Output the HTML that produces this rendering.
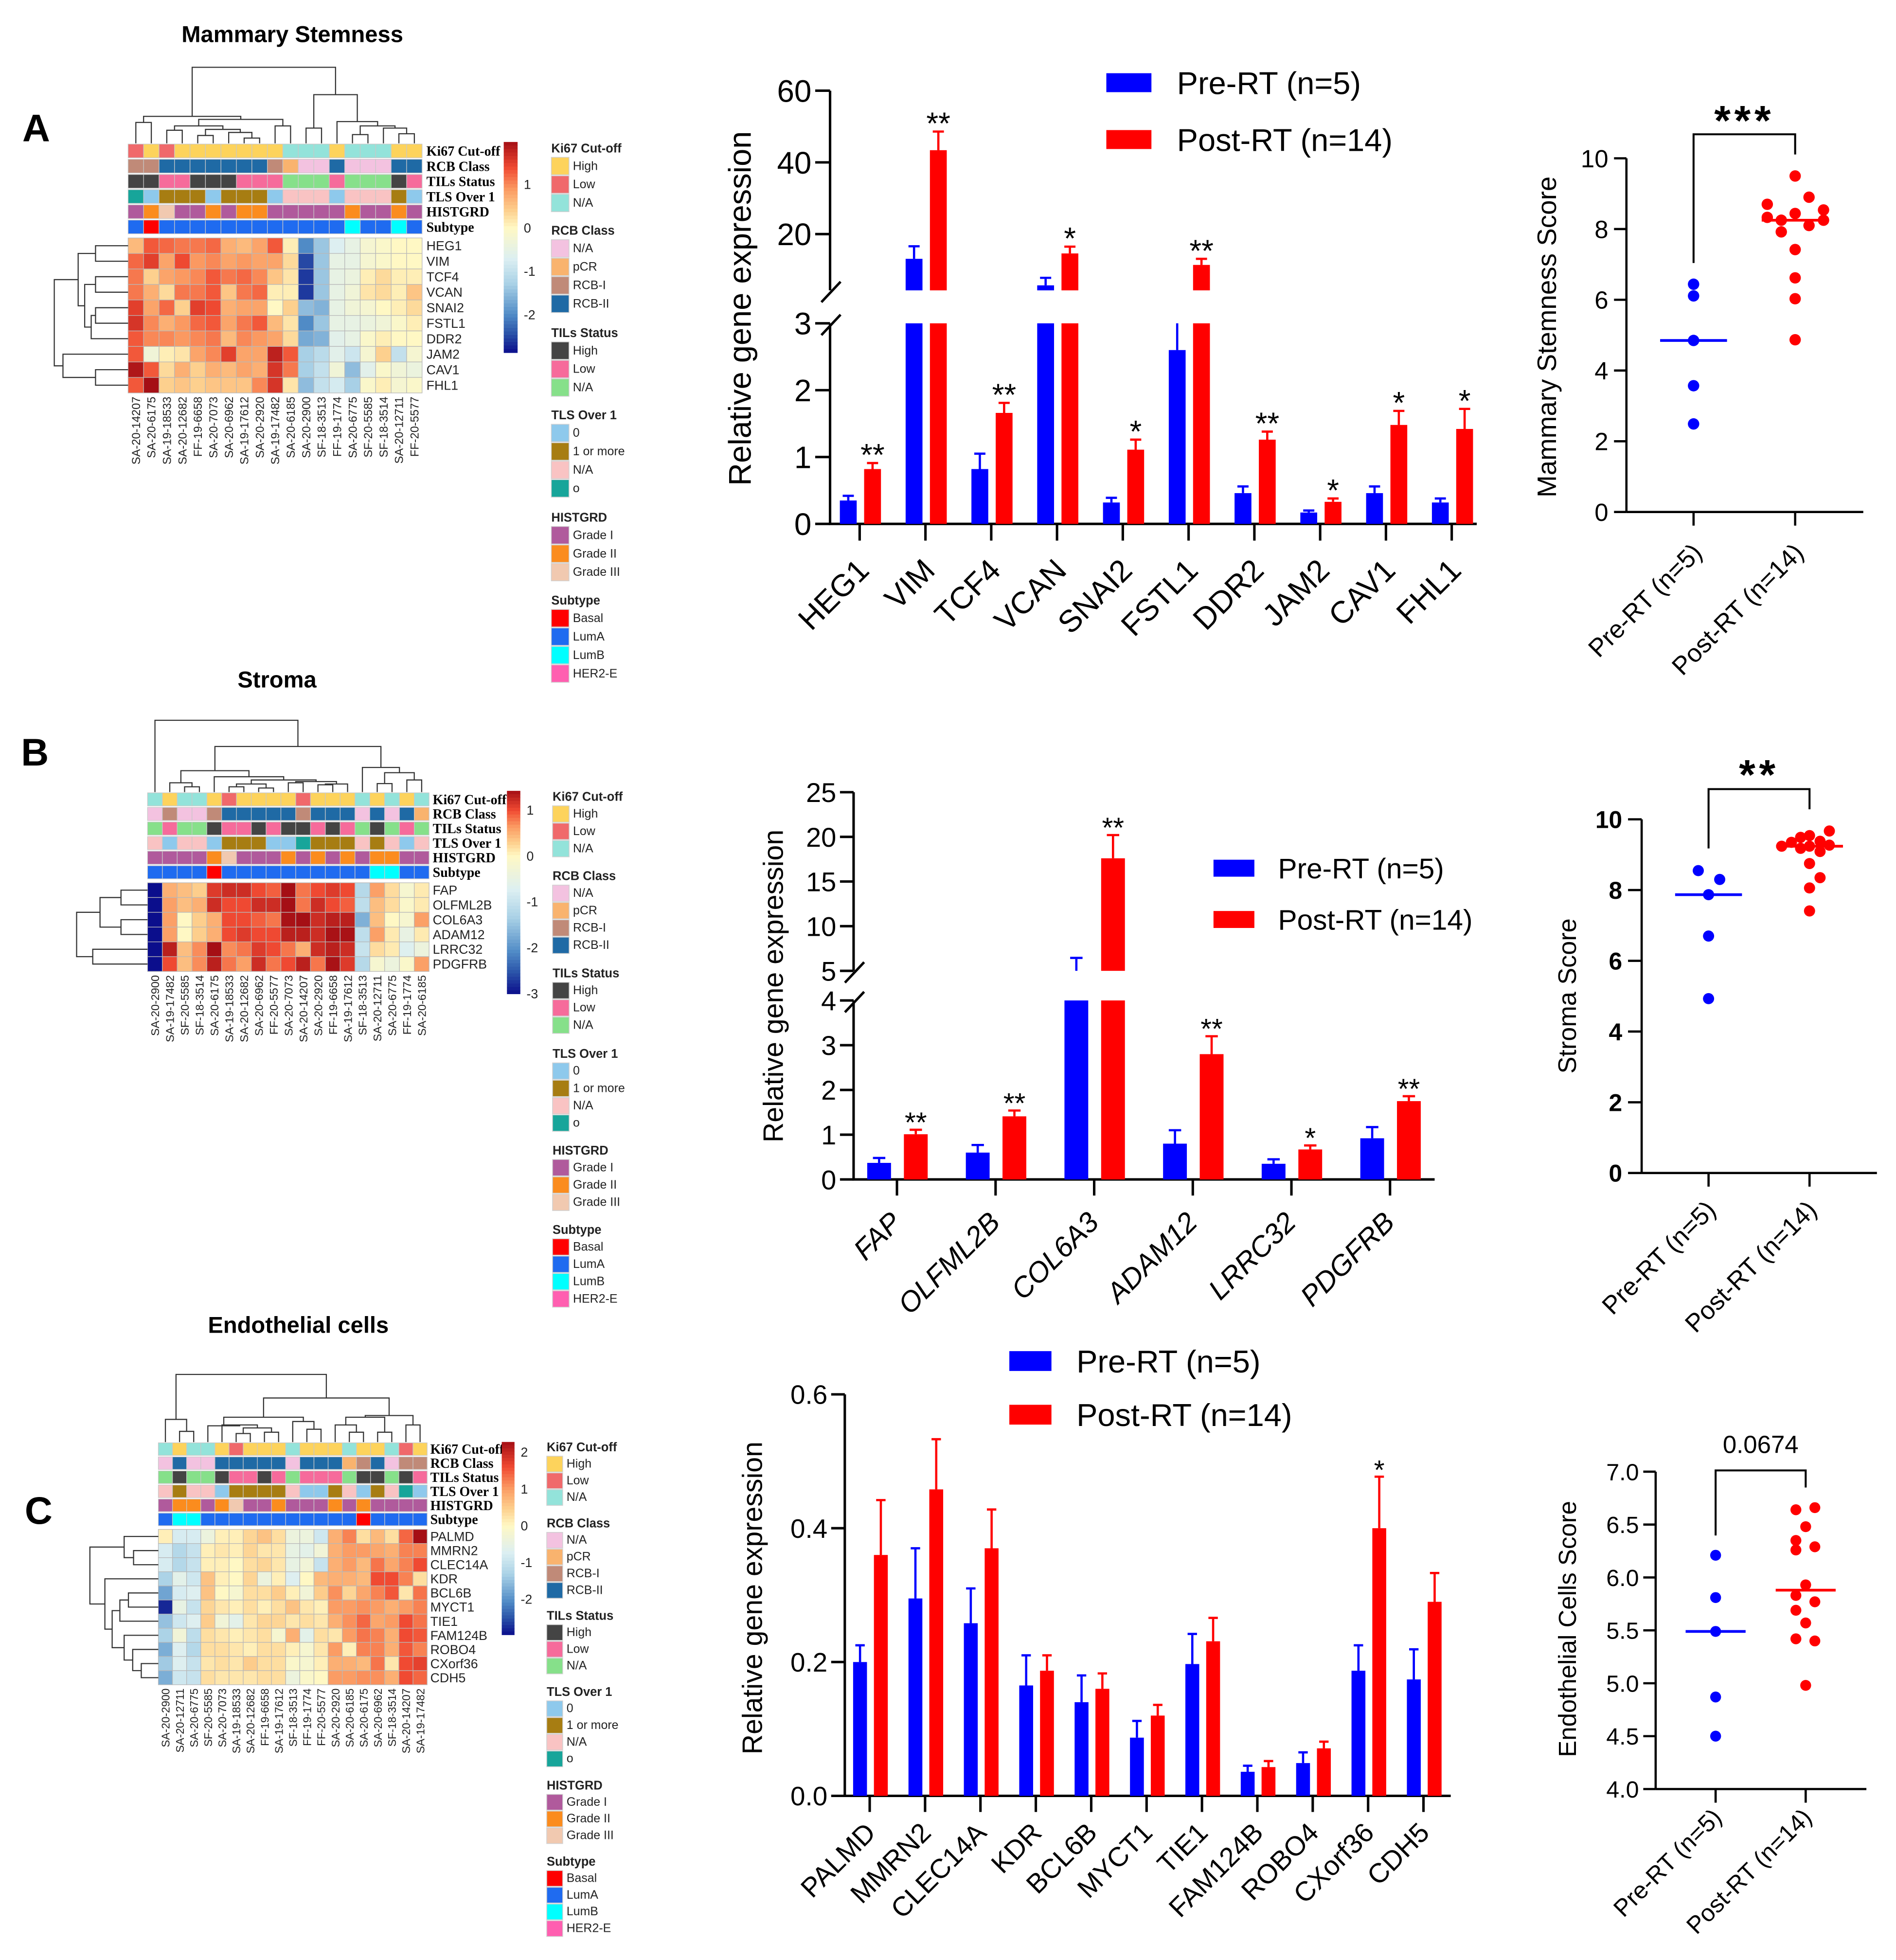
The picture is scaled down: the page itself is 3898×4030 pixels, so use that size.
<!DOCTYPE html>
<html><head><meta charset="utf-8"><title>Figure</title>
<style>
html,body{margin:0;padding:0;background:#fff;}
svg{display:block;font-family:"Liberation Sans",Arial,sans-serif;}
</style></head>
<body>
<svg id="fig" xmlns="http://www.w3.org/2000/svg" width="3898" height="4030" viewBox="0 0 1530.4 1582.2" preserveAspectRatio="none">
<rect x="0" y="0" width="1530.4" height="1582.2" fill="#fff"/>
</svg>
<script>
// ================= DATA =================
// Heatmap A (Mammary Stemness)
const heatA_genes=["HEG1","VIM","TCF4","VCAN","SNAI2","FSTL1","DDR2","JAM2","CAV1","FHL1"];
const heatA_samples=["SA-20-14207","SA-20-6175","SA-19-18533","SA-20-12682","FF-19-6658","SA-20-7073","SA-20-6962","SA-19-17612","SA-20-2920","SA-19-17482","SA-20-6185","SA-20-2900","SF-18-3513","FF-19-1774","SA-20-6775","SF-20-5585","SF-18-3514","SA-20-12711","FF-20-5577"];
const heatA_values=[
[0.6,1.3,1.2,1.1,1.1,1.2,0.7,0.6,0.8,1.3,0.1,-2,-1.4,-0.7,-0.5,-0.2,-0.1,0,0],
[1.2,1.5,0.8,1.4,0.9,1.0,0.8,0.9,0.8,0.8,0.3,-2.5,-1.4,-0.5,-0.5,-0.2,-0.1,0,0],
[1.1,0.4,0.8,0.9,1.0,1.3,1.1,1.2,1.0,0.5,0.2,-2.6,-1.4,-0.5,-0.4,0.1,0.3,0.1,0.1],
[1.1,0.7,0.3,1.1,1.1,1.3,0.5,1.1,1.2,0.1,0.1,-2.6,-1.4,-0.5,-0.3,0.2,0.3,0.1,0.5],
[1.5,0.8,1.2,0.4,1.5,1.4,0.7,0.8,0.8,0,0.4,-1.5,-1.6,-0.5,-0.3,-0.2,0,0.1,0.3],
[1.6,1.0,0.7,0.9,1.2,1.3,0.8,1.1,1.3,0.6,0.2,-2,-1.4,-0.5,-0.5,-0.4,-0.3,-0.1,0.1],
[1.3,1.0,1.0,0.9,1.0,1.1,0.6,1.0,0.9,0.8,0.3,-1.7,-1.6,-0.6,-0.5,-0.1,0.1,0,0],
[1.3,-0.3,0.1,0.2,0.8,1.0,1.5,0.8,0.8,1.8,1.3,-1.3,-1.1,-0.6,-0.9,-0.2,0.4,-1.0,-0.2],
[1.9,1.3,0.3,0.7,0.4,0.7,0.6,0.8,0.7,1.6,1.1,-1.3,-1.0,-0.3,-1.5,-0.6,-0.1,-0.3,-0.4],
[1.3,2.0,0.4,0.5,0.4,0.5,0.5,0.5,1.0,1.6,0.2,-1.5,-1.0,-0.8,-1.3,-0.1,0.1,-0.2,-0.1]];
const annA_ki67=["L","H","L","H","H","H","H","H","H","H","N","N","N","H","N","N","N","H","H"];
const annA_rcb=["I","I","II","II","II","II","II","II","II","I","pCR","N","N","II","N","N","N","II","II"];
const annA_tils=["H","H","L","L","H","H","H","L","L","L","N","N","N","L","N","N","N","H","L"];
const annA_tls=["o","0","1","1","1","0","1","1","1","0","N","N","N","0","N","N","N","1","0"];
const annA_hist=["1","2","3","1","1","2","1","2","2","1","1","1","1","1","2","1","1","2","1"];
const annA_sub=["A","B","A","A","A","A","A","A","A","A","A","A","A","A","LB","A","A","LB","A"];

// Heatmap B (Stroma)
const heatB_genes=["FAP","OLFML2B","COL6A3","ADAM12","LRRC32","PDGFRB"];
const heatB_samples=["SA-20-2900","SA-19-17482","SF-20-5585","SF-18-3514","SA-20-6175","SA-19-18533","SA-20-12682","SA-20-6962","FF-20-5577","SA-20-7073","SA-20-14207","SA-20-2920","FF-19-6658","SA-19-17612","SF-18-3513","SA-20-12711","SA-20-6775","FF-19-1774","SA-20-6185"];
const heatB_values=[
[-3,0.5,0.4,0.3,1.1,1.2,1.2,1.0,0.9,1.6,0.8,1.0,1.1,1.0,-1.2,0.6,0.2,-0.2,0.1],
[-3,0.6,0.4,0.5,1.2,1.0,1.0,1.2,1.2,1.5,0.8,1.2,1.0,0.9,-1.1,0.4,0.2,-0.1,0.1],
[-3,0.6,0.0,0.3,0.5,1.0,1.0,0.9,0.8,1.4,1.5,1.2,1.3,1.3,-1.7,0.4,0.0,-0.2,0.6],
[-3,0.6,0.0,0.3,0.5,1.0,1.1,1.0,1.0,1.3,1.3,1.2,1.4,1.4,-1.1,0.6,0.1,-0.5,0.1],
[-3,1.3,0.4,0.7,1.9,0.7,0.8,1.1,1.0,0.8,0.5,1.2,1.3,1.2,-1.0,0.2,0.1,-0.7,-0.4],
[-3,1.0,0.4,0.7,1.3,0.8,0.6,1.2,0.8,1.0,1.3,0.8,1.4,1.1,-1.2,-0.2,-0.4,-0.1,0.6]];
const annB_ki67=["N","H","N","N","H","L","H","H","H","H","L","H","H","H","N","H","N","H","N"];
const annB_rcb=["N","I","N","N","I","II","II","II","II","II","I","II","II","II","N","II","N","II","pCR"];
const annB_tils=["N","L","N","N","H","L","L","H","L","H","H","L","H","L","N","H","N","L","N"];
const annB_tls=["N","0","N","N","0","1","1","1","0","0","o","1","1","1","N","1","N","0","N"];
const annB_hist=["1","1","1","1","2","3","1","1","1","2","1","2","1","2","1","2","2","1","1"];
const annB_sub=["A","A","A","A","B","A","A","A","A","A","A","A","A","A","A","LB","LB","A","A"];

// Heatmap C (Endothelial cells)
const heatC_genes=["PALMD","MMRN2","CLEC14A","KDR","BCL6B","MYCT1","TIE1","FAM124B","ROBO4","CXorf36","CDH5"];
const heatC_samples=["SA-20-2900","SA-20-12711","SA-20-6775","SF-20-5585","SA-20-7073","SA-19-18533","SA-20-12682","FF-19-6658","SA-19-17612","SF-18-3513","FF-19-1774","FF-20-5577","SA-20-2920","SA-20-6185","SA-20-6175","SA-20-6962","SF-18-3514","SA-20-14207","SA-19-17482"];
const heatC_values=[
[0.1,-0.8,-0.8,-0.4,0.1,0.1,0.4,0.6,0.3,-0.4,-0.4,-0.9,0.8,1.2,0.3,0.7,0.3,1.4,2.3],
[-0.8,-1.2,-1.0,0.1,0.2,0.1,0.4,0.2,0.2,-0.5,-0.6,-0.3,0.8,1.0,1.0,0.9,0.8,1.2,1.2],
[-0.8,-1.2,-1.0,0.1,0.1,0.0,0.3,0.4,0.2,-0.5,-0.3,-1.0,0.8,1.0,0.7,1.3,0.9,1.2,1.6],
[-1.3,-0.6,-0.9,0.6,0.1,0.0,0.4,-0.4,0.1,-0.7,0.0,0.7,0.8,0.8,0.7,1.6,1.6,1.2,0.3],
[-1.8,-0.8,-0.7,0.6,0.0,-0.2,0.3,0.3,0.5,0.1,-0.3,0.5,1.1,0.4,0.9,1.2,1.5,0.2,1.3],
[-2.8,-0.5,-1.0,0.4,0.2,0.1,0.3,0.1,0.3,0.6,0.2,0.1,1.0,1.0,1.1,1.0,0.8,1.0,1.2],
[-1.5,-0.9,-0.7,0.5,-0.3,-0.6,0.2,0.4,0.4,0.2,0.3,0.2,0.8,1.1,1.4,0.9,1.0,1.6,1.3],
[-1.3,-0.3,-1.1,0.3,0.2,0.1,0.2,0.3,-0.2,0.8,-0.6,0.3,0.2,1.0,1.3,1.2,0.8,1.6,1.5],
[-1.7,-0.7,-1.2,0.3,0.3,0.2,0.1,0.3,0.3,0.1,-0.2,0.2,1.0,0.1,1.2,1.2,0.8,1.5,1.2],
[-1.4,-0.7,-1.0,0.2,0.3,0.2,0.5,0.3,0.3,-0.1,-0.2,0.1,0.8,0.8,0.7,1.3,0.2,1.6,1.7],
[-1.7,-0.9,-1.0,0.3,0.2,0.2,0.2,0.3,0.3,-0.4,-0.1,0.0,1.0,1.0,1.1,1.1,0.8,1.6,1.4]];
const annC_ki67=["N","H","N","N","H","L","H","H","H","N","H","H","H","N","H","H","N","L","H"];
const annC_rcb=["N","II","N","N","II","II","II","II","II","N","II","II","II","pCR","I","II","N","I","I"];
const annC_tils=["N","H","N","N","H","L","L","H","L","N","L","L","L","N","H","H","N","H","L"];
const annC_tls=["N","1","N","N","0","1","1","1","1","N","0","0","1","N","0","1","N","o","0"];
const annC_hist=["1","2","2","1","2","3","1","1","2","1","1","1","2","1","2","1","1","1","1"];
const annC_sub=["A","LB","LB","A","A","A","A","A","A","A","A","A","A","A","B","A","A","A","A"];

// Dendrogram merges [childA, childB, height(zoom units)]
const dendA_cols=[[0,1,282],[2,3,300],[4,5,312],[7,8,318],[6,22,305],[21,23,298],[20,24,290],[9,10,290],[25,26,275],[19,27,268],[11,12,295],[14,15,310],[17,18,308],[16,31,295],[30,32,290],[13,33,280],[29,34,218],[28,35,155]];
const dendA_rows=[[0,1,220],[2,3,220],[4,5,220],[12,6,210],[11,13,195],[10,14,180],[8,9,220],[7,16,145],[15,17,125]];
const dendB_cols=[[2,3,335],[1,19,325],[5,6,335],[7,8,338],[21,22,328],[9,10,325],[11,12,330],[25,13,328],[24,26,322],[23,27,318],[4,28,310],[20,29,295],[15,16,327],[17,18,318],[31,32,300],[14,33,287],[30,34,235],[0,35,170]];
const dendB_rows=[[0,1,300],[2,3,300],[6,7,248],[4,5,230],[8,9,190]];
const dendC_cols=[[1,2,333],[0,19,305],[5,6,338],[7,8,335],[21,22,325],[4,23,318],[3,24,320],[10,11,328],[9,26,310],[25,27,300],[13,14,335],[12,29,318],[15,16,335],[30,31,300],[17,18,318],[32,33,296],[28,34,255],[20,35,200]];
const dendC_rows=[[1,2,312],[0,11,290],[4,5,300],[13,6,280],[9,10,330],[8,15,310],[7,16,290],[14,17,262],[3,18,245],[12,19,210]];

// Bar chart A
const barA_genes=["HEG1","VIM","TCF4","VCAN","SNAI2","FSTL1","DDR2","JAM2","CAV1","FHL1"];
const barA_pre=[0.35,13.1,0.82,5.7,0.32,2.6,0.46,0.17,0.46,0.32];
const barA_preErr=[0.07,3.5,0.23,2.1,0.07,0.6,0.1,0.03,0.1,0.06];
const barA_post=[0.82,43.4,1.66,14.6,1.11,11.4,1.26,0.33,1.48,1.42];
const barA_postErr=[0.09,5.2,0.15,1.9,0.15,1.7,0.12,0.05,0.21,0.3];
const barA_stars=["**","**","**","*","*","**","**","*","*","*"];
const barA_lowTicks=[0,1,2,3];
const barA_upTicks=[20,40,60];
// Bar chart B
const barB_genes=["FAP","OLFML2B","COL6A3","ADAM12","LRRC32","PDGFRB"];
const barB_pre=[0.37,0.6,5.0,0.8,0.35,0.92];
const barB_preErr=[0.11,0.17,1.45,0.3,0.1,0.25];
const barB_post=[1.01,1.41,17.6,2.8,0.67,1.75];
const barB_postErr=[0.1,0.13,2.6,0.4,0.09,0.11];
const barB_stars=["**","**","**","**","*","**"];
const barB_lowTicks=[0,1,2,3,4];
const barB_upTicks=[5,10,15,20,25];
// Bar chart C
const barC_genes=["PALMD","MMRN2","CLEC14A","KDR","BCL6B","MYCT1","TIE1","FAM124B","ROBO4","CXorf36","CDH5"];
const barC_pre=[0.20,0.295,0.258,0.165,0.14,0.087,0.197,0.036,0.049,0.187,0.174];
const barC_preErr=[0.025,0.075,0.052,0.045,0.04,0.025,0.045,0.009,0.016,0.038,0.045];
const barC_post=[0.36,0.458,0.37,0.187,0.16,0.12,0.231,0.043,0.071,0.40,0.29];
const barC_postErr=[0.082,0.075,0.058,0.023,0.023,0.016,0.035,0.009,0.01,0.077,0.043];
const barC_stars=["","","","","","","","","","*",""];
const barC_lowTicks=[0,0.2,0.4,0.6];

// Scatter plots
const scatA_pre=[6.44,6.11,4.85,3.57,2.49];
const scatA_post=[9.5,8.9,8.7,8.54,8.44,8.33,8.25,8.25,8.1,7.92,7.42,6.62,6.03,4.87];
const scatA_ticks=[0,2,4,6,8,10];
const scatB_pre=[8.55,8.3,7.87,6.7,4.93];
const scatB_post=[9.67,9.54,9.49,9.38,9.35,9.27,9.24,9.24,9.18,9.09,8.75,8.35,8.06,7.41];
const scatB_ticks=[0,2,4,6,8,10];
const scatC_pre=[6.21,5.81,5.49,4.87,4.5];
const scatC_post=[6.66,6.64,6.48,6.35,6.29,6.26,5.93,5.83,5.77,5.69,5.57,5.42,5.4,4.98];
const scatC_ticks=[4.0,4.5,5.0,5.5,6.0,6.5,7.0];

// ================= DRAWING =================
const NS='http://www.w3.org/2000/svg';
const svg=document.getElementById('fig');
function mk(tag,attrs,parent){const e=document.createElementNS(NS,tag);for(const k in attrs)e.setAttribute(k,attrs[k]);(parent||svg).appendChild(e);return e;}
function txt(str,attrs,parent){const e=mk('text',attrs,parent);e.textContent=str;return e;}
function grp(name,parent){const g=mk('g',{},parent);


return g;}

function lerpCol(c1,c2,t){const a=parseInt(c1.slice(1),16),b=parseInt(c2.slice(1),16);
const r=Math.round(((a>>16)&255)*(1-t)+((b>>16)&255)*t),g=Math.round(((a>>8)&255)*(1-t)+((b>>8)&255)*t),bl=Math.round((a&255)*(1-t)+(b&255)*t);
return 'rgb('+r+','+g+','+bl+')';}
function ramp(stops,t){t=Math.max(0,Math.min(1,t));for(let i=1;i<stops.length;i++){if(t<=stops[i][0]){const s=stops[i-1],e=stops[i];return lerpCol(s[1],e[1],(t-s[0])/(e[0]-s[0]));}}return stops[stops.length-1][1];}
const POS=[[0,'#FFF8C4'],[0.2,'#FDD08E'],[0.45,'#FB9A62'],[0.7,'#F04A32'],[1,'#A50F15']];
const NEG=[[0,'#FFF8C4'],[0.25,'#DCEFF2'],[0.45,'#A9D1E6'],[0.7,'#4F8AC6'],[0.85,'#2A52A8'],[1,'#0B0E8C']];
function heatColor(v,vmax,vmin){return v>=0?ramp(POS,v/vmax):ramp(NEG,v/vmin);}

const ANNCOL={
ki67:{H:'#FDD35C',L:'#F0696B',N:'#93E3DA'},
rcb:{N:'#F3C2E0',pCR:'#F9B36E',I:'#C08A78',II:'#1F6AA5'},
tils:{H:'#444444',L:'#F66B9B',N:'#86E08A'},
tls:{'0':'#8EC9EC','1':'#A77D12',N:'#F9C3C3',o:'#17A59A'},
hist:{'1':'#B05A9C','2':'#FB8C1E','3':'#F1C9B0'},
sub:{B:'#FF0000',A:'#1F6BF0',LB:'#00FFFF',H:'#FF5FB0'}};
const ANNLABEL=['Ki67 Cut-off','RCB Class','TILs Status','TLS Over 1','HISTGRD','Subtype'];
const LEGENDS=[
['Ki67 Cut-off',[['#FDD35C','High'],['#F0696B','Low'],['#93E3DA','N/A']]],
['RCB Class',[['#F3C2E0','N/A'],['#F9B36E','pCR'],['#C08A78','RCB-I'],['#1F6AA5','RCB-II']]],
['TILs Status',[['#444444','High'],['#F66B9B','Low'],['#86E08A','N/A']]],
['TLS Over 1',[['#8EC9EC','0'],['#A77D12','1 or more'],['#F9C3C3','N/A'],['#17A59A','o']]],
['HISTGRD',[['#B05A9C','Grade I'],['#FB8C1E','Grade II'],['#F1C9B0','Grade III']]],
['Subtype',[['#FF0000','Basal'],['#1F6BF0','LumA'],['#00FFFF','LumB'],['#FF5FB0','HER2-E']]]];

function heatmap(c){
  const g=grp(c.name);
  const t=txt(c.title,{x:c.titleX,y:c.titleY,'font-size':18.5,'font-weight':'bold','text-anchor':'middle'},g);
  
  
  const L=txt(c.letter,{x:c.letterX,y:c.letterY,'font-size':31,'font-weight':'bold'},g);
  
  
  const nC=c.samples.length,nR=c.genes.length;
  const cx=i=>c.x0+(i+0.5)*c.cw;
  const anns=[c.ann.ki67,c.ann.rcb,c.ann.tils,c.ann.tls,c.ann.hist,c.ann.sub];
  const keys=['ki67','rcb','tils','tls','hist','sub'];
  const ag=grp('annotation-bars',g);
  anns.forEach((arr,r)=>{
    arr.forEach((code,i)=>{
      const rc=mk('rect',{x:c.x0+i*c.cw,y:c.annTop+r*c.annH+0.6,width:c.cw,height:c.annH-1.2,fill:ANNCOL[keys[r]][code],stroke:'#c8c8c8','stroke-width':0.5},ag);
      
      
    });
    const lt=txt(ANNLABEL[r],{x:c.labelX,y:c.annTop+(r+0.5)*c.annH+3.8,'font-size':11,'font-weight':'bold',style:'font-family:"Liberation Serif",serif'},ag);
    
    
  });
  const hg=grp('heatmap-cells',g);
  c.values.forEach((row,r)=>{
    row.forEach((v,i)=>{
      const rc=mk('rect',{x:c.x0+i*c.cw,y:c.heatTop+r*c.rh,width:c.cw,height:c.rh,fill:heatColor(v,c.vmax,c.vmin),stroke:'#b8b8b8','stroke-width':0.5},hg);
      
      
    });
    const gt=txt(c.genes[r],{x:c.labelX,y:c.heatTop+(r+0.5)*c.rh+3.7,'font-size':10.5,fill:'#222'},hg);
    
    
  });
  const heatBottom=c.heatTop+nR*c.rh;
  c.samples.forEach((s,i)=>{
    const st=txt(s,{transform:'translate('+(cx(i)+3.4)+','+(heatBottom+3)+') rotate(-90)','font-size':c.sampleFont,'text-anchor':'end',fill:'#222'},hg);
    
    
  });
  const dg=grp('column-dendrogram',g);
  const pos=[],hgt=[];
  for(let i=0;i<nC;i++){pos.push(cx(i));hgt.push(c.annTop);}
  c.colMerges.forEach(m=>{
    const a=m[0],b=m[1],h=c.dy(m[2]);
    const d='M'+pos[a]+','+hgt[a]+'V'+h+'H'+pos[b]+'V'+hgt[b];
    const p=mk('path',{d:d,fill:'none',stroke:'#333','stroke-width':0.9},dg);
    
    
    pos.push((pos[a]+pos[b])/2);hgt.push(h);
  });
  const rg=grp('row-dendrogram',g);
  const rp=[],rx=[];
  for(let r=0;r<nR;r++){rp.push(c.heatTop+(r+0.5)*c.rh);rx.push(c.x0);}
  c.rowMerges.forEach(m=>{
    const a=m[0],b=m[1],x=c.dx(m[2]);
    const d='M'+rx[a]+','+rp[a]+'H'+x+'V'+rp[b]+'H'+rx[b];
    const p=mk('path',{d:d,fill:'none',stroke:'#333','stroke-width':0.9},rg);
    
    
    rp.push((rp[a]+rp[b])/2);rx.push(x);
  });
  const cb=grp('color-scale-bar',g);
  const N=60;const per=(c.cbBottom-c.cbTop)/N;
  for(let k=0;k<N;k++){
    const v=c.cbTopVal-(k+0.5)/N*(c.cbTopVal-c.cbBotVal);
    const rc=mk('rect',{x:c.cbX,y:c.cbTop+k*per,width:c.cbW,height:per+0.3,fill:heatColor(v,c.vmax,c.vmin)},cb);
    
    
  }
  c.cbTicks.forEach(v=>{
    const y=c.cbTop+(c.cbTopVal-v)/(c.cbTopVal-c.cbBotVal)*(c.cbBottom-c.cbTop);
    const tt=txt(String(v),{x:c.cbX+c.cbW+5,y:y+3.6,'font-size':10.5,fill:'#222'},cb);
    
    
  });
  const lg=grp('annotation-legend',g);
  LEGENDS.forEach((grpDef,k)=>{
    const ty=c.legTitles[k];
    const tt=txt(grpDef[0],{x:c.legX,y:ty,'font-size':10,'font-weight':'bold',fill:'#222'},lg);
    
    
    grpDef[1].forEach((e,j)=>{
      const y=ty+4+j*c.legStep;
      const sw=mk('rect',{x:c.legX,y:y,width:c.legStep-0.6,height:c.legStep-0.8,fill:e[0],stroke:'#d0d0d0','stroke-width':0.6},lg);
      
      
      const lt=txt(e[1],{x:c.legX+c.legStep+2.5,y:y+c.legStep*0.68,'font-size':9.8,fill:'#222'},lg);
      
      
    });
  });
}

heatmap({name:'heatmap-mammary-stemness',title:'Mammary Stemness',titleX:236,titleY:34,letter:'A',letterX:18,letterY:114,
 samples:heatA_samples,genes:heatA_genes,values:heatA_values,
 ann:{ki67:annA_ki67,rcb:annA_rcb,tils:annA_tils,tls:annA_tls,hist:annA_hist,sub:annA_sub},
 x0:103.4,cw:12.49,annTop:115.7,annH:12.27,heatTop:192.1,rh:12.51,labelX:344.2,sampleFont:9.3,
 vmax:1.98,vmin:-2.87,colMerges:dendA_cols,rowMerges:dendA_rows,dy:z=>z/2.853,dx:z=>z/2.853,
 cbX:406.6,cbW:11.2,cbTop:114.6,cbBottom:284.6,cbTopVal:1.98,cbBotVal:-2.87,cbTicks:[1,0,-1,-2],
 legX:445,legTitles:[123,189.5,272,338.5,421,488],legStep:14.9});
heatmap({name:'heatmap-stroma',title:'Stroma',titleX:223.6,titleY:555,letter:'B',letterX:17,letterY:618,
 samples:heatB_samples,genes:heatB_genes,values:heatB_values,
 ann:{ki67:annB_ki67,rcb:annB_rcb,tils:annB_tils,tls:annB_tls,hist:annB_hist,sub:annB_sub},
 x0:119.1,cw:11.96,annTop:639.4,annH:11.77,heatTop:712.6,rh:11.93,labelX:349.3,sampleFont:9.2,
 vmax:1.42,vmin:-3.0,colMerges:dendB_cols,rowMerges:dendB_rows,dy:z=>526.1+z/3.072,dx:z=>z/3.072,
 cbX:409.2,cbW:10.8,cbTop:638.4,cbBottom:802.2,cbTopVal:1.42,cbBotVal:-3.0,cbTicks:[1,0,-1,-2,-3],
 legX:446,legTitles:[646.5,710.5,789,854,932,996],legStep:14.0});
heatmap({name:'heatmap-endothelial',title:'Endothelial cells',titleX:240.8,titleY:1076,letter:'C',letterX:20,letterY:1230,
 samples:heatC_samples,genes:heatC_genes,values:heatC_values,
 ann:{ki67:annC_ki67,rcb:annC_rcb,tils:annC_tils,tls:annC_tls,hist:annC_hist,sub:annC_sub},
 x0:127.8,cw:11.42,annTop:1164.1,annH:11.35,heatTop:1234.6,rh:11.4,labelX:347.3,sampleFont:8.9,
 vmax:2.28,vmin:-2.96,colMerges:dendC_cols,rowMerges:dendC_rows,dy:z=>1040.4+z/2.894,dx:z=>z/2.894,
 cbX:405,cbW:10.3,cbTop:1164,cbBottom:1319.6,cbTopVal:2.28,cbBotVal:-2.96,cbTicks:[2,1,0,-1,-2],
 legX:441.3,legTitles:[1171.5,1233,1307.5,1369,1444.5,1506],legStep:13.5});

// ---------- Bar charts ----------
function barChart(c){
  const g=grp(c.name);
  const lowScale=(c.y0-c.lowTopY)/c.lowMax;
  const yLow=v=>c.y0-Math.min(v,c.lowMax)*lowScale;
  const upScale=c.upMax?(c.upBottomY-c.upTopY)/(c.upMax-c.upMin):0;
  const yUp=v=>c.upBottomY-(v-c.upMin)*upScale;
  const ax=grp('y-axis',g);
  let d='M'+c.axisX+','+c.y0+'V'+c.lowTopY;
  if(c.upMax){d+='M'+c.axisX+','+c.upBottomY+'V'+c.upTopY;}
  const al=mk('path',{d:d,stroke:'#000','stroke-width':2,fill:'none'},ax);
  
  
  if(c.upMax){
    [c.upBottomY,c.lowTopY].forEach(yy=>{
      const br=mk('line',{x1:c.axisX-7,y1:yy+9.5,x2:c.axisX+8.5,y2:yy-7,stroke:'#000','stroke-width':2},ax);
      
      
    });
  }
  const tickLab=(v,y)=>{
    const tl=mk('line',{x1:c.axisX-c.tickLen,y1:y,x2:c.axisX,y2:y,stroke:'#000','stroke-width':2},ax);
    
    
    const tt=txt(c.fmt(v),{x:c.axisX-c.tickLen-3,y:y+c.tickFont*0.36,'font-size':c.tickFont,'text-anchor':'end'},ax);
    
    
  };
  c.lowTicks.forEach(v=>tickLab(v,yLow(v)));
  if(c.upMax)c.upTicks.forEach(v=>tickLab(v,yUp(v)));
  const yt=txt('Relative gene expression',{transform:'translate('+c.titleX+','+c.titleY+') rotate(-90)','font-size':c.titleFont,'text-anchor':'middle'},g);
  
  
  const xa=grp('x-axis',g);
  const xl=mk('line',{x1:c.axisX-1,y1:c.y0,x2:c.axisEnd,y2:c.y0,stroke:'#000','stroke-width':2},xa);
  
  
  const bars=grp('bars',g);
  const drawBar=(xc,v,err,col,nm)=>{
    const top=yLow(v);
    const r1=mk('rect',{x:xc-c.barW/2,y:top,width:c.barW,height:c.y0-top,fill:col},bars);
    
    
    let errTopY;
    const vt=v+err;
    if(c.upMax && v>c.lowMax){
      if(v>c.upMin){
        const r2=mk('rect',{x:xc-c.barW/2,y:yUp(v),width:c.barW,height:c.upBottomY-yUp(v),fill:col},bars);
        
        
      }
      const yb=v>=c.upMin?yUp(v):c.upBottomY;
      errTopY=yUp(vt);
      const e=mk('path',{d:'M'+xc+','+yb+'V'+errTopY+'M'+(xc-c.capW)+','+errTopY+'H'+(xc+c.capW),stroke:col,'stroke-width':1.8,fill:'none'},bars);
      
      
    } else if(c.upMax && vt>c.lowMax){
      errTopY=c.lowTopY;
      const e=mk('path',{d:'M'+xc+','+top+'V'+errTopY,stroke:col,'stroke-width':1.8,fill:'none'},bars);
      
      
    } else {
      errTopY=yLow(vt);
      const e=mk('path',{d:'M'+xc+','+top+'V'+errTopY+'M'+(xc-c.capW)+','+errTopY+'H'+(xc+c.capW),stroke:col,'stroke-width':1.8,fill:'none'},bars);
      
      
    }
    return errTopY;
  };
  c.genes.forEach((gn,i)=>{
    const tx=c.tick0+i*c.tickStep;
    const tk=mk('line',{x1:tx,y1:c.y0,x2:tx,y2:c.y0+c.xTickLen,stroke:'#000','stroke-width':2},xa);
    
    
    drawBar(tx+c.offB,c.pre[i],c.preErr[i],'#0000FF','bar-pre-rt');
    const et=drawBar(tx+c.offR,c.post[i],c.postErr[i],'#FF0000','bar-post-rt');
    if(c.stars[i]){
      const s=txt(c.stars[i],{x:tx+c.offR,y:et+c.starDy,'font-size':c.starFont,'text-anchor':'middle'},bars);
      
      
    }
    const lab=txt(gn,{transform:'translate('+(tx+c.labDx)+','+(c.y0+c.labDy)+') rotate(-45)','font-size':c.labFont,'text-anchor':'end','font-style':c.italic?'italic':'normal'},xa);
    
    
  });
  const lg=grp('legend',g);
  [['#0000FF','Pre-RT (n=5)',c.legY1],['#FF0000','Post-RT (n=14)',c.legY2]].forEach(e=>{
    const r=mk('rect',{x:c.legX,y:e[2],width:c.legW,height:c.legH,fill:e[0]},lg);
    
    
    const t=txt(e[1],{x:c.legTextX,y:e[2]+c.legH/2+c.legFont*0.36,'font-size':c.legFont},lg);
    
    
  });
}
const fmtInt=v=>String(v);
barChart({name:'bar-chart-mammary-stemness',genes:barA_genes,pre:barA_pre,preErr:barA_preErr,post:barA_post,postErr:barA_postErr,stars:barA_stars,
 axisX:670,axisEnd:1192,y0:422.9,lowMax:3,lowTopY:261,upMin:4.3,upMax:60,upBottomY:234.4,upTopY:73.2,lowTicks:barA_lowTicks,upTicks:barA_upTicks,
 tickLen:12,tickFont:25,fmt:fmtInt,titleX:606,titleY:249,titleFont:25.5,
 tick0:693.9,tickStep:53.1,barW:13.6,offB:-9.2,offR:10.4,capW:4.5,xTickLen:13.5,starDy:2,starFont:25,
 labDx:9,labDy:39,labFont:25,italic:false,
 legX:893,legY1:59.1,legY2:105,legW:36.4,legH:15.3,legTextX:950,legFont:25.5});
barChart({name:'bar-chart-stroma',genes:barB_genes,pre:barB_pre,preErr:barB_preErr,post:barB_post,postErr:barB_postErr,stars:barB_stars,
 axisX:689,axisEnd:1158,y0:952.1,lowMax:4,lowTopY:807.6,upMin:5,upMax:25,upBottomY:783.7,upTopY:639.5,lowTicks:barB_lowTicks,upTicks:barB_upTicks,
 tickLen:11,tickFont:22,fmt:fmtInt,titleX:632,titleY:796,titleFont:22.5,
 tick0:724,tickStep:79.6,barW:19.2,offB:-14.4,offR:15.2,capW:5,xTickLen:13,starDy:2,starFont:23,
 labDx:5,labDy:36,labFont:23,italic:true,
 legX:979.5,legY1:694,legY2:735.4,legW:33,legH:13.7,legTextX:1031.6,legFont:23});
barChart({name:'bar-chart-endothelial',genes:barC_genes,pre:barC_pre,preErr:barC_preErr,post:barC_post,postErr:barC_postErr,stars:barC_stars,
 axisX:681.9,axisEnd:1171,y0:1449.7,lowMax:0.6,lowTopY:1125.6,upMin:0,upMax:0,upBottomY:0,upTopY:0,lowTicks:barC_lowTicks,upTicks:[],
 tickLen:11,tickFont:21.5,fmt:v=>v.toFixed(1),titleX:615,titleY:1290,titleFont:22.5,
 tick0:702,tickStep:44.7,barW:11.2,offB:-7.8,offR:9,capW:3.8,xTickLen:13,starDy:2,starFont:22,
 labDx:6,labDy:31,labFont:22,italic:false,
 legX:814.7,legY1:1090.7,legY2:1134,legW:34,legH:16,legTextX:868.9,legFont:25.5});

// ---------- Scatter plots ----------
const jitA_pre=[0,0,0,0,0];
const jitA_post=[0,11.2,-22.5,22.9,0,-22.5,-11.2,22.9,11.2,-11.2,0,0,0,0];
const jitB_pre=[-8.3,9,0,0,0];
const jitB_post=[16,0,-7.2,8.5,-14.6,16,-22.5,0,-7.2,8.5,0,8.5,0,0];
const jitC_pre=[0,0,0,0,0];
const jitC_post=[7.4,-7.9,0,-7.9,7.4,-7.9,0,-7.9,7.4,-7.9,0,-7.9,7.4,0];
function median(a){const s=a.slice().sort((x,y)=>x-y);const n=s.length;return n%2?s[(n-1)/2]:(s[n/2-1]+s[n/2])/2;}
function scatter(c){
  const g=grp(c.name);
  const y=v=>c.yMinY-(v-c.vMin)/(c.vMax-c.vMin)*(c.yMinY-c.yMaxY);
  const ax=grp('y-axis',g);
  const al=mk('line',{x1:c.axisX,y1:c.yMinY,x2:c.axisX,y2:y(c.vMax),stroke:'#000','stroke-width':1.8},ax);
  
  
  c.ticks.forEach(v=>{
    const tl=mk('line',{x1:c.axisX-c.tickLen,y1:y(v),x2:c.axisX,y2:y(v),stroke:'#000','stroke-width':1.8},ax);
    
    
    const tt=txt(c.fmt(v),{x:c.axisX-c.labGap,y:y(v)+c.tickFont*0.36,'font-size':c.tickFont,'text-anchor':'end','font-weight':c.bold?'bold':'normal'},ax);
    
    
  });
  const yt=txt(c.title,{transform:'translate('+c.titleX+','+c.titleY+') rotate(-90)','font-size':c.titleFont,'text-anchor':'middle'},g);
  
  
  const xa=grp('x-axis',g);
  const xl=mk('line',{x1:c.axisX,y1:c.yMinY,x2:c.axisEnd,y2:c.yMinY,stroke:'#000','stroke-width':1.8},xa);
  
  
  [[c.xPre,'Pre-RT (n=5)'],[c.xPost,'Post-RT (n=14)']].forEach(e=>{
    const tk=mk('line',{x1:e[0],y1:c.yMinY,x2:e[0],y2:c.yMinY+11,stroke:'#000','stroke-width':1.8},xa);
    
    
    const lab=txt(e[1],{transform:'translate('+(e[0]+c.labDx)+','+(c.yMinY+c.labDy)+') rotate(-45)','font-size':c.labFont,'text-anchor':'end'},xa);
    
    
  });
  const pts=grp('points',g);
  [[c.pre,c.jPre,c.xPre,'#0000FF','point-pre-rt'],[c.post,c.jPost,c.xPost,'#FF0000','point-post-rt']].forEach(s=>{
    s[0].forEach((v,i)=>{
      const p=mk('circle',{cx:s[2]+s[1][i],cy:y(v),r:c.r,fill:s[3]},pts);
      
      
    });
    const m=median(s[0]);
    const ml=mk('line',{x1:s[2]-c.medHalf,y1:y(m),x2:s[2]+c.medHalf,y2:y(m),stroke:s[3],'stroke-width':2.2},pts);
    
    
  });
  const bg=grp('significance-bracket',g);
  const bp=mk('path',{d:'M'+c.xPre+','+c.brL+'V'+c.brTop+'H'+c.xPost+'V'+c.brR,fill:'none',stroke:'#000','stroke-width':1.6},bg);
  
  
  const bt=txt(c.sig,{x:(c.xPre+c.xPost)/2,y:c.sigY,'font-size':c.sigFont,'font-weight':c.sigBold?'bold':'normal','text-anchor':'middle','letter-spacing':c.sigSpacing},bg);
  
  
}
scatter({name:'scatter-mammary-stemness-score',pre:scatA_pre,post:scatA_post,jPre:jitA_pre,jPost:jitA_post,ticks:scatA_ticks,fmt:v=>String(v),bold:false,
 axisX:1312.8,axisEnd:1504,vMin:0,vMax:10,yMinY:413.3,yMaxY:127.8,tickLen:10,labGap:14.6,tickFont:20,
 title:'Mammary Stemness Score',titleX:1256,titleY:272,titleFont:21.5,xPre:1367,xPost:1449,labDx:8,labDy:34,labFont:20.5,
 r:4.6,medHalf:27,brTop:108.4,brL:212.3,brR:124.7,sig:'***',sigY:109,sigFont:34,sigBold:true,sigSpacing:3});
scatter({name:'scatter-stroma-score',pre:scatB_pre,post:scatB_post,jPre:jitB_pre,jPost:jitB_post,ticks:scatB_ticks,fmt:v=>String(v),bold:true,
 axisX:1325.1,axisEnd:1515,vMin:0,vMax:10,yMinY:946.9,yMaxY:661.4,tickLen:11,labGap:15.7,tickFont:19.5,
 title:'Stroma Score',titleX:1272,titleY:804,titleFont:20.5,xPre:1379.1,xPost:1460.6,labDx:7,labDy:31,labFont:20.5,
 r:4.5,medHalf:27,brTop:637,brL:684.9,brR:653.3,sig:'**',sigY:637,sigFont:34,sigBold:true,sigSpacing:3});
scatter({name:'scatter-endothelial-cells-score',pre:scatC_pre,post:scatC_post,jPre:jitC_pre,jPost:jitC_post,ticks:scatC_ticks,fmt:v=>v.toFixed(1),bold:false,
 axisX:1336.4,axisEnd:1506.5,vMin:4,vMax:7,yMinY:1444.2,yMaxY:1188,tickLen:10,labGap:13.5,tickFont:19,
 title:'Endothelial Cells Score',titleX:1272,titleY:1315,titleFont:20,xPre:1384.8,xPost:1457.5,labDx:6,labDy:24,labFont:19.5,
 r:4.4,medHalf:24.2,brTop:1187,brL:1239.5,brR:1200.8,sig:'0.0674',sigY:1173,sigFont:20,sigBold:false,sigSpacing:0});
</script>
</body></html>
